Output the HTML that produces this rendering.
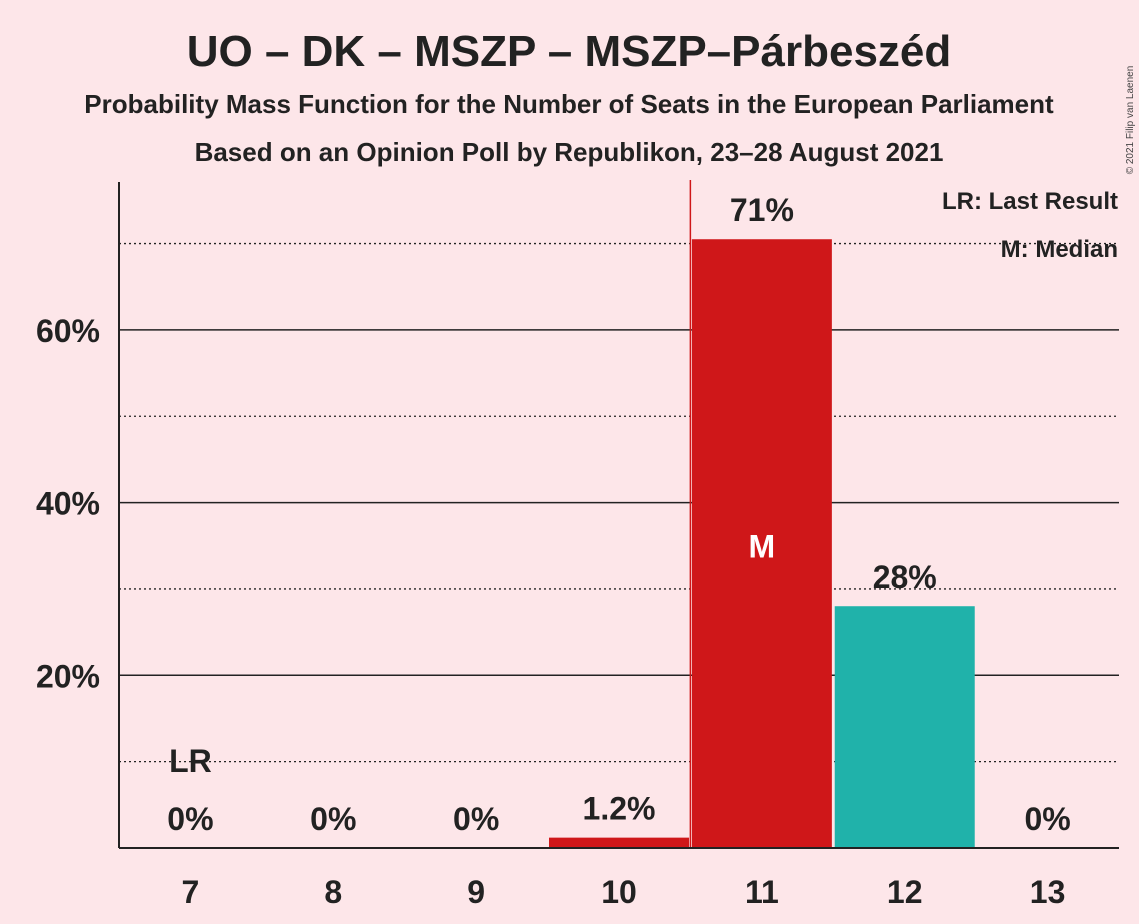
<!DOCTYPE html>
<html><head><meta charset="utf-8"><style>
body{margin:0;background:#fde6e9;}
svg{display:block;font-family:"Liberation Sans",sans-serif;font-weight:bold;}
</style></head><body>
<svg id="c" width="1139" height="924" viewBox="0 0 1139 924">
<rect width="1139" height="924" fill="#fde6e9"/>
<text x="569" y="66" font-size="44" text-anchor="middle" fill="#222">UO – DK – MSZP – MSZP–Párbeszéd</text>
<text x="569" y="113" font-size="26" text-anchor="middle" fill="#222">Probability Mass Function for the Number of Seats in the European Parliament</text>
<text x="569" y="161" font-size="26" text-anchor="middle" fill="#222">Based on an Opinion Poll by Republikon, 23–28 August 2021</text>
<text x="1133" y="120" font-size="10" font-weight="normal" fill="#444" transform="rotate(-90 1133 120)" text-anchor="middle">© 2021 Filip van Laenen</text>
<g id="grid"></g>
<g id="bars"></g>
<g id="labels"></g>
<text x="1118" y="209" font-size="24" text-anchor="end" fill="#222">LR: Last Result</text>
<text x="1118" y="257" font-size="24" text-anchor="end" fill="#222">M: Median</text>
</svg>
<script>
const seats=[7,8,9,10,11,12,13];
const probs=[0,0,0,1.2,70.5,28.0,0];
const valueLabels=["0%","0%","0%","1.2%","71%","28%","0%"];
const yTicks=[20,40,60];
const yMinor=[10,30,50,70];
const lastResult=7, median=11;
const ns="http://www.w3.org/2000/svg";
const x0=119,x1=1119,yb=848,step=142.86;
const X=s=>x0+(s-seats[0]+0.5)*step;
const Y=p=>yb-p*8.635;
function mk(tag,a,parent,txt){const e=document.createElementNS(ns,tag);for(const k in a)e.setAttribute(k,a[k]);if(txt!=null)e.textContent=txt;parent.appendChild(e);return e;}
const g=document.getElementById('grid'),b=document.getElementById('bars'),l=document.getElementById('labels');
yMinor.forEach(t=>{const e=mk('line',{x1:x0,x2:x1,y1:Y(t),y2:Y(t),stroke:'#222','stroke-width':1.3,'stroke-dasharray':'2,3'},g);

});
yTicks.forEach(t=>{const e=mk('line',{x1:x0,x2:x1,y1:Y(t),y2:Y(t),stroke:'#222','stroke-width':1.5},g);


const tx=mk('text',{x:100,y:Y(t)+12,'font-size':32,'text-anchor':'end',fill:'#222'},g,t+'%');

});
seats.forEach((s,i)=>{
 const p=probs[i];
 if(p>0){const col=s<=median?'#cf1719':'#20b2aa';
  const r=mk('rect',{x:X(s)-70,y:Y(p),width:140,height:yb-Y(p),fill:col},b);
  
  }
 const v=mk('text',{x:X(s),y:(p>0?Y(p):yb)-18,'font-size':32,'text-anchor':'middle',fill:'#222'},l,valueLabels[i]);
 
 
 const xt=mk('text',{x:X(s),y:903,'font-size':32,'text-anchor':'middle',fill:'#222'},l,String(s));
 
 
 if(s===median){const m=mk('text',{x:X(s),y:Y(p/2)+14,'font-size':32,'text-anchor':'middle',fill:'#fff'},l,'M');
  
  }
 if(s===lastResult){const lr=mk('text',{x:X(s),y:772,'font-size':32,'text-anchor':'middle',fill:'#222'},l,'LR');
  
  }
});
const ml=mk('line',{x1:X(median)-71.5,x2:X(median)-71.5,y1:180,y2:yb,stroke:'#cf1719','stroke-width':1.5},b);


const ya=mk('line',{x1:x0,x2:x0,y1:182,y2:yb,stroke:'#222','stroke-width':2},l);


const xa=mk('line',{x1:x0,x2:x1,y1:yb,y2:yb,stroke:'#222','stroke-width':2},l);


</script>
</body></html>
